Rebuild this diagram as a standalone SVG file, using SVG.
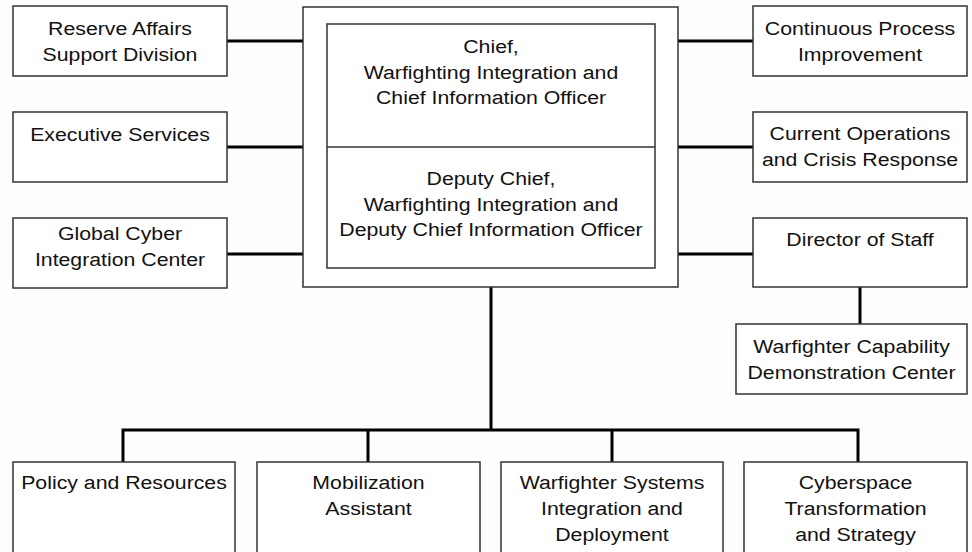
<svg xmlns="http://www.w3.org/2000/svg" width="972" height="552" viewBox="0 0 972 552">
<style>
.box{fill:#fff;stroke:#333;stroke-width:1.5}
.ln{stroke:#000;stroke-width:3;fill:none}
text{font-family:"Liberation Sans",Arial,Helvetica,sans-serif;font-size:19px;fill:#111;text-anchor:middle}
</style>
<rect width="972" height="552" fill="#fdfdfd"/>
<g id="connectors">
<line class="ln" x1="227" y1="41" x2="303" y2="41"/>
<line class="ln" x1="227" y1="147" x2="303" y2="147"/>
<line class="ln" x1="227" y1="254" x2="303" y2="254"/>
<line class="ln" x1="678" y1="41" x2="753" y2="41"/>
<line class="ln" x1="678" y1="147" x2="753" y2="147"/>
<line class="ln" x1="678" y1="254" x2="753" y2="254"/>
<line class="ln" x1="860" y1="287" x2="860" y2="324"/>
<line class="ln" x1="491" y1="287" x2="491" y2="430"/>
<polyline class="ln" points="123,462 123,430 858,430 858,462"/>
<line class="ln" x1="368" y1="430" x2="368" y2="462"/>
<line class="ln" x1="612" y1="430" x2="612" y2="462"/>
</g>
<g id="chief-office">
<rect class="box" x="303" y="7" width="375" height="280"/>
<rect class="box" x="327" y="24" width="328" height="244"/>
<line x1="327" y1="147" x2="655" y2="147" stroke="#333" stroke-width="1.5"/>
</g>
<g id="chief">
<g transform="translate(491 0) scale(1.12 1)">
<text x="0" y="53">Chief,</text>
<text x="0" y="79">Warfighting Integration and</text>
<text x="0" y="104">Chief Information Officer</text>
</g>
</g>
<g id="deputy-chief">
<g transform="translate(491 0) scale(1.12 1)">
<text x="0" y="185">Deputy Chief,</text>
<text x="0" y="211">Warfighting Integration and</text>
<text x="0" y="236">Deputy Chief Information Officer</text>
</g>
</g>
<g id="reserve-affairs">
<rect class="box" x="13" y="6" width="214" height="70"/>
<g transform="translate(120 0) scale(1.12 1)">
<text x="0" y="35">Reserve Affairs</text>
<text x="0" y="61">Support Division</text>
</g>
</g>
<g id="executive-services">
<rect class="box" x="13" y="112" width="214" height="70"/>
<g transform="translate(120 0) scale(1.12 1)">
<text x="0" y="141">Executive Services</text>
</g>
</g>
<g id="global-cyber">
<rect class="box" x="13" y="218" width="214" height="70"/>
<g transform="translate(120 0) scale(1.12 1)">
<text x="0" y="240">Global Cyber</text>
<text x="0" y="266">Integration Center</text>
</g>
</g>
<g id="continuous-process">
<rect class="box" x="753" y="6" width="214" height="70"/>
<g transform="translate(860 0) scale(1.12 1)">
<text x="0" y="35">Continuous Process</text>
<text x="0" y="61">Improvement</text>
</g>
</g>
<g id="current-operations">
<rect class="box" x="753" y="112" width="214" height="70"/>
<g transform="translate(860 0) scale(1.12 1)">
<text x="0" y="140">Current Operations</text>
<text x="0" y="166">and Crisis Response</text>
</g>
</g>
<g id="director-of-staff">
<rect class="box" x="753" y="218" width="214" height="69"/>
<g transform="translate(860 0) scale(1.12 1)">
<text x="0" y="246">Director of Staff</text>
</g>
</g>
<g id="warfighter-capability">
<rect class="box" x="736" y="324" width="231" height="70"/>
<g transform="translate(851.5 0) scale(1.12 1)">
<text x="0" y="353">Warfighter Capability</text>
<text x="0" y="379">Demonstration Center</text>
</g>
</g>
<g id="policy-resources">
<rect class="box" x="13" y="462" width="222" height="100"/>
<g transform="translate(124 0) scale(1.12 1)">
<text x="0" y="489">Policy and Resources</text>
</g>
</g>
<g id="mobilization-assistant">
<rect class="box" x="257" y="462" width="223" height="100"/>
<g transform="translate(368.5 0) scale(1.12 1)">
<text x="0" y="489">Mobilization</text>
<text x="0" y="515">Assistant</text>
</g>
</g>
<g id="warfighter-systems">
<rect class="box" x="501" y="462" width="222" height="100"/>
<g transform="translate(612 0) scale(1.12 1)">
<text x="0" y="489">Warfighter Systems</text>
<text x="0" y="515">Integration and</text>
<text x="0" y="541">Deployment</text>
</g>
</g>
<g id="cyberspace-transformation">
<rect class="box" x="744" y="462" width="223" height="100"/>
<g transform="translate(855.5 0) scale(1.12 1)">
<text x="0" y="489">Cyberspace</text>
<text x="0" y="515">Transformation</text>
<text x="0" y="541">and Strategy</text>
</g>
</g>
</svg>
